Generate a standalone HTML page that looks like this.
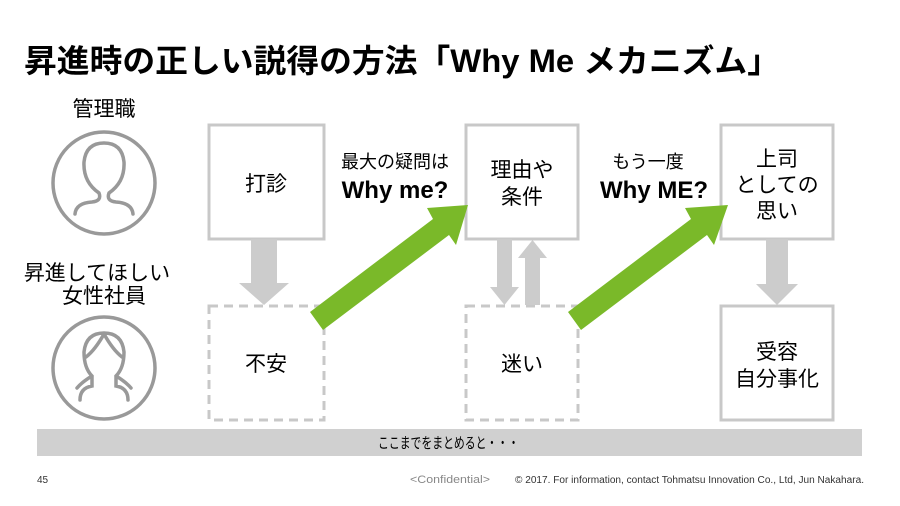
<!DOCTYPE html>
<html><head><meta charset="utf-8"><style>
html,body{margin:0;padding:0;background:#fff}
svg{display:block}
text{font-family:"Liberation Sans","Noto Sans CJK JP",sans-serif}
</style></head><body>
<svg width="900" height="506" viewBox="0 0 900 506" xmlns="http://www.w3.org/2000/svg">
<text x="24" y="72" font-size="32" font-weight="bold" textLength="756" lengthAdjust="spacingAndGlyphs" fill="#000">昇進時の正しい説得の方法「Why Me メカニズム」</text>

<text x="104" y="116" font-size="21" text-anchor="middle">管理職</text>
<circle cx="104" cy="183" r="51" fill="none" stroke="#999" stroke-width="3.5"/>
<path d="M75,214 Q76,203 92,202 Q102,201 99,193 Q83,182 84,162 Q86,143 104,143 Q122,143 124,162 Q125,182 109,193 Q106,201 116,202 Q132,203 133,214" fill="none" stroke="#999" stroke-width="3.5" stroke-linecap="round"/>
<text x="97" y="280" font-size="21" text-anchor="middle">昇進してほしい</text>
<text x="104" y="303" font-size="21" text-anchor="middle">女性社員</text>
<circle cx="104" cy="368" r="51" fill="none" stroke="#999" stroke-width="3.5"/>
<path d="M80,400 Q80,388 92,386 L92,376 Q84,368 84,352 Q86,333 104,333 Q122,333 124,352 Q124,368 116,376 L116,386 Q128,388 128,400 M104,334 Q95,350 86,357 M104,334 Q113,350 122,357 M92,376 Q82,382 77,388 M116,376 Q126,382 131,388" fill="none" stroke="#999" stroke-width="3.5" stroke-linecap="round"/>

<g fill="none" stroke="#c8c8c8" stroke-width="3">
<rect x="209" y="125" width="115" height="114"/>
<rect x="466" y="125" width="112" height="114"/>
<rect x="721" y="125" width="112" height="114"/>
<rect x="721" y="306" width="112" height="114"/>
<g stroke-dasharray="9,6"><rect x="209" y="306" width="115" height="114"/><rect x="466" y="306" width="112" height="114"/></g>
</g>

<g fill="#cccccc">
<polygon points="251,239 277,239 277,283 289,283 264,305 239,283 251,283"/>
<polygon points="497,239 512,239 512,287 519,287 504.5,305 490,287 497,287"/>
<polygon points="525,305 540,305 540,258 547,258 532.5,240 518,258 525,258"/>
<polygon points="766,239 788,239 788,284 798,284 777,305 756,284 766,284"/>
</g>

<g fill="#7ab929">
<polygon points="310,312 433,219 427,208 468,205 456,245 449,235 323,330"/>
<polygon points="568,312 691,219 685,208 728,205 714,245 707,235 581,330"/>
</g>

<g font-size="21" text-anchor="middle">
<text x="266" y="191">打診</text>
<text x="266" y="371">不安</text>
<text x="522" y="177">理由や</text>
<text x="522" y="204">条件</text>
<text x="522" y="371">迷い</text>
<text x="777" y="166">上司</text>
<text x="777" y="192">としての</text>
<text x="777" y="218">思い</text>
<text x="777" y="359">受容</text>
<text x="777" y="386">自分事化</text>
</g>

<text x="395" y="168" font-size="18" text-anchor="middle">最大の疑問は</text>
<text x="395" y="198" font-size="24" font-weight="bold" text-anchor="middle">Why me?</text>
<text x="648" y="168" font-size="18" text-anchor="middle">もう一度</text>
<text x="654" y="198" font-size="24" font-weight="bold" text-anchor="middle">Why ME?</text>

<rect x="37" y="429" width="825" height="27" fill="#d0d0d0"/>
<text x="378" y="448" font-size="15" textLength="141" lengthAdjust="spacingAndGlyphs">ここまでをまとめると・・・</text>

<text x="37" y="483" font-size="10" fill="#333">45</text>
<text x="410" y="483" font-size="11" fill="#888" textLength="80" lengthAdjust="spacingAndGlyphs">&lt;Confidential&gt;</text>
<text x="515" y="483" font-size="10" fill="#333" textLength="349" lengthAdjust="spacingAndGlyphs">© 2017. For information, contact Tohmatsu Innovation Co., Ltd, Jun Nakahara.</text>
</svg>
</body></html>
